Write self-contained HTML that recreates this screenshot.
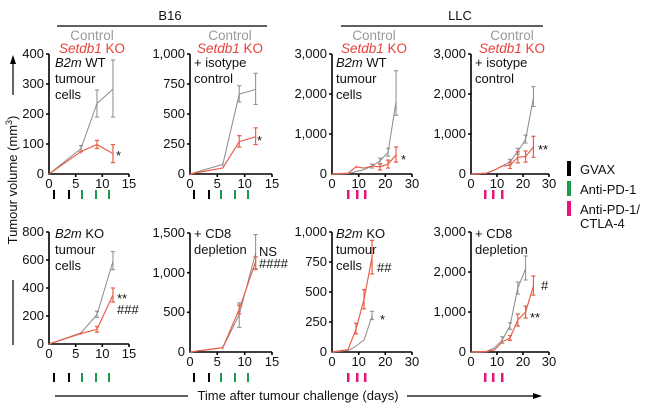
<!DOCTYPE html>
<html><head><meta charset="utf-8"><style>
body{margin:0;background:#fff}
svg{display:block;font-family:"Liberation Sans",Arial,sans-serif}
.t{font-size:13px;fill:#111}
.tk{font-size:13px;fill:#111}
.g{fill:none;stroke:#8a8a8a;stroke-width:1}
.r{fill:none;stroke:#e8604a;stroke-width:1.2}
.ax{stroke:#000;stroke-width:1.6;fill:none}
</style></head><body>
<svg width="650" height="412" viewBox="0 0 650 412">
<text x="170" y="20" text-anchor="middle" class="t" font-size="13">B16</text>
<line x1="57" y1="26" x2="267" y2="26" stroke="#000" stroke-width="1.2"/>
<text x="460" y="20" text-anchor="middle" class="t" font-size="13">LLC</text>
<line x1="341" y1="26" x2="543" y2="26" stroke="#000" stroke-width="1.2"/>
<g font-size="13.5" text-anchor="middle">
<text x="92" y="40" fill="#999">Control</text><text x="92" y="53" fill="#e8403a"><tspan font-style="italic">Setdb1</tspan> KO</text>
<text x="230" y="40" fill="#999">Control</text><text x="230" y="53" fill="#e8403a"><tspan font-style="italic">Setdb1</tspan> KO</text>
<text x="374" y="40" fill="#999">Control</text><text x="374" y="53" fill="#e8403a"><tspan font-style="italic">Setdb1</tspan> KO</text>
<text x="512" y="40" fill="#999">Control</text><text x="512" y="53" fill="#e8403a"><tspan font-style="italic">Setdb1</tspan> KO</text>
</g>
<text transform="translate(17,180) rotate(-90)" text-anchor="middle" class="t" font-size="13">Tumour volume (mm<tspan dy="-5" font-size="9">3</tspan><tspan dy="5">)</tspan></text>
<line x1="13" y1="280" x2="13" y2="345" stroke="#000" stroke-width="1.2"/>
<line x1="13" y1="95" x2="13" y2="62" stroke="#000" stroke-width="1.2"/>
<polygon points="13,55 10,64 16,64" fill="#000"/>
<text x="298" y="400" text-anchor="middle" class="t" font-size="13.5">Time after tumour challenge (days)</text>
<line x1="55" y1="396" x2="188" y2="396" stroke="#000" stroke-width="1.2"/>
<line x1="407" y1="396" x2="535" y2="396" stroke="#000" stroke-width="1.2"/>
<polygon points="542,396 533,393 533,399" fill="#000"/>

<rect x="567" y="161" width="4" height="15" fill="#000"/><text x="580" y="174" class="t" font-size="13.5">GVAX</text>
<rect x="567" y="181" width="4" height="15" fill="#1a9a4a"/><text x="580" y="194" class="t" font-size="13.5">Anti-PD-1</text>
<rect x="567" y="201" width="4" height="15" fill="#e8147c"/><text x="580" y="214" class="t" font-size="13.5">Anti-PD-1/</text><text x="580" y="228" class="t" font-size="13.5">CTLA-4</text>

<!-- Panel 1 -->
<path class="ax" d="M49,54 V174 H129 M46,54H49 M46,84H49 M46,114H49 M46,144H49 M75.7,174V177 M102.3,174V177 M129,174V177"/>
<g class="tk" text-anchor="end"><text x="44" y="58">400</text><text x="44" y="88">300</text><text x="44" y="118">200</text><text x="44" y="148">100</text><text x="44" y="178">0</text></g>
<g class="tk" text-anchor="middle"><text x="49" y="188">0</text><text x="75.7" y="188">5</text><text x="102.3" y="188">10</text><text x="129" y="188">15</text></g>
<text x="55" y="67" class="t" font-size="13.5"><tspan font-style="italic">B2m</tspan> WT</text><text x="55" y="83" class="t" font-size="13.5">tumour</text><text x="55" y="99" class="t" font-size="13.5">cells</text>
<g transform="translate(49,174) scale(5.33,-0.3)">
<polyline class="g" vector-effect="non-scaling-stroke" points="0,0 6,85 9,235 12,283"/>
<path class="g" vector-effect="non-scaling-stroke" d="M6,75V95 M5.6,75H6.4 M5.6,95H6.4 M9,190V280 M8.6,190H9.4 M8.6,280H9.4 M12,190V380 M11.6,190H12.4 M11.6,380H12.4"/>
<polyline class="r" vector-effect="non-scaling-stroke" points="0,0 6,75 9,98 12,68"/>
<path class="r" vector-effect="non-scaling-stroke" d="M6,68V82 M9,85V112 M8.6,85H9.4 M8.6,112H9.4 M12,38V98 M11.6,38H12.4 M11.6,98H12.4"/>
</g>
<text x="116" y="160" class="t" font-size="14">*</text>
<g fill="#000"><rect x="53" y="190" width="2" height="9"/><rect x="68" y="190" width="2" height="9"/></g>
<g fill="#1a9a4a"><rect x="81" y="190" width="2" height="9"/><rect x="95" y="190" width="2" height="9"/><rect x="108" y="190" width="2" height="9"/></g>

<!-- Panel 2 -->
<path class="ax" d="M190,54 V174 H272 M187,54H190 M187,84H190 M187,114H190 M187,144H190 M217.3,174V177 M244.7,174V177 M272,174V177"/>
<g class="tk" text-anchor="end"><text x="185" y="58">1,000</text><text x="185" y="88">750</text><text x="185" y="118">500</text><text x="185" y="148">250</text><text x="185" y="178">0</text></g>
<g class="tk" text-anchor="middle"><text x="190" y="188">0</text><text x="217.3" y="188">5</text><text x="244.7" y="188">10</text><text x="272" y="188">15</text></g>
<text x="194" y="67" class="t" font-size="13.5">+ isotype</text><text x="194" y="83" class="t" font-size="13.5">control</text>
<g transform="translate(190,174) scale(5.47,-0.12)">
<polyline class="g" vector-effect="non-scaling-stroke" points="0,0 6,80 9,665 12,705"/>
<path class="g" vector-effect="non-scaling-stroke" d="M6,65V95 M9,600V735 M8.6,600H9.4 M8.6,735H9.4 M12,580V840 M11.6,580H12.4 M11.6,840H12.4"/>
<polyline class="r" vector-effect="non-scaling-stroke" points="0,0 6,50 9,270 12,310"/>
<path class="r" vector-effect="non-scaling-stroke" d="M9,225V320 M8.6,225H9.4 M8.6,320H9.4 M12,245V385 M11.6,245H12.4 M11.6,385H12.4"/>
</g>
<text x="257" y="145" class="t" font-size="14">*</text>
<g fill="#000"><rect x="193" y="190" width="2" height="9"/><rect x="208" y="190" width="2" height="9"/></g>
<g fill="#1a9a4a"><rect x="220" y="190" width="2" height="9"/><rect x="234" y="190" width="2" height="9"/><rect x="247" y="190" width="2" height="9"/></g>

<!-- Panel 3 -->
<path class="ax" d="M332,54 V174 H412 M329,54H332 M329,94H332 M329,134H332 M358.7,174V177 M385.3,174V177 M412,174V177"/>
<g class="tk" text-anchor="end"><text x="327" y="58">3,000</text><text x="327" y="98">2,000</text><text x="327" y="138">1,000</text><text x="327" y="178">0</text></g>
<g class="tk" text-anchor="middle"><text x="332" y="188">0</text><text x="358.7" y="188">10</text><text x="385.3" y="188">20</text><text x="412" y="188">30</text></g>
<text x="336" y="67" class="t" font-size="13.5"><tspan font-style="italic">B2m</tspan> WT</text><text x="336" y="83" class="t" font-size="13.5">tumour</text><text x="336" y="99" class="t" font-size="13.5">cells</text>
<g transform="translate(332,174) scale(2.67,-0.0397)">
<polyline class="g" vector-effect="non-scaling-stroke" points="0,0 6,10 9,60 12,110 15,200 18,330 21,550 24,1830"/>
<path class="g" vector-effect="non-scaling-stroke" d="M15,150V250 M14.2,150H15.8 M14.2,250H15.8 M18,250V400 M17.2,250H18.8 M17.2,400H18.8 M21,450V650 M20.2,450H21.8 M20.2,650H21.8 M24,1480V2600 M23.2,1480H24.8 M23.2,2600H24.8"/>
<polyline class="r" vector-effect="non-scaling-stroke" points="0,0 6,20 9,180 12,150 15,200 18,180 21,250 24,480"/>
<path class="r" vector-effect="non-scaling-stroke" d="M9,150V210 M18,100V260 M17.2,100H18.8 M17.2,260H18.8 M21,150V350 M20.2,150H21.8 M20.2,350H21.8 M24,300V680 M23.2,300H24.8 M23.2,680H24.8"/>
</g>
<text x="401" y="164" class="t" font-size="14">*</text>
<g fill="#e8147c"><rect x="347" y="190" width="2.5" height="9"/><rect x="356" y="190" width="2.5" height="9"/><rect x="364" y="190" width="2.5" height="9"/></g>

<!-- Panel 4 -->
<path class="ax" d="M471,54 V174 H549 M468,54H471 M468,94H471 M468,134H471 M497,174V177 M523,174V177 M549,174V177"/>
<g class="tk" text-anchor="end"><text x="466" y="58">3,000</text><text x="466" y="98">2,000</text><text x="466" y="138">1,000</text><text x="466" y="178">0</text></g>
<g class="tk" text-anchor="middle"><text x="471" y="188">0</text><text x="497" y="188">10</text><text x="523" y="188">20</text><text x="549" y="188">30</text></g>
<text x="475" y="67" class="t" font-size="13.5">+ isotype</text><text x="475" y="83" class="t" font-size="13.5">control</text>
<g transform="translate(471,174) scale(2.6,-0.0397)">
<polyline class="g" vector-effect="non-scaling-stroke" points="0,0 6,20 9,100 12,200 15,300 18,570 21,870 24,1920"/>
<path class="g" vector-effect="non-scaling-stroke" d="M15,230V370 M14.2,230H15.8 M14.2,370H15.8 M18,500V650 M17.2,500H18.8 M17.2,650H18.8 M21,780V980 M20.2,780H21.8 M20.2,980H21.8 M24,1700V2200 M23.2,1700H24.8 M23.2,2200H24.8"/>
<polyline class="r" vector-effect="non-scaling-stroke" points="0,0 6,20 9,100 12,200 15,220 18,420 21,440 24,680"/>
<path class="r" vector-effect="non-scaling-stroke" d="M15,140V300 M14.2,140H15.8 M14.2,300H15.8 M18,280V560 M17.2,280H18.8 M17.2,560H18.8 M21,300V580 M20.2,300H21.8 M20.2,580H21.8 M24,420V950 M23.2,420H24.8 M23.2,950H24.8"/>
</g>
<text x="538" y="154" class="t" font-size="14">**</text>
<g fill="#e8147c"><rect x="484" y="190" width="2.5" height="9"/><rect x="492" y="190" width="2.5" height="9"/><rect x="501" y="190" width="2.5" height="9"/></g>

<!-- Panel 5 -->
<path class="ax" d="M49,232 V344 H129 M46,232H49 M46,260H49 M46,288H49 M46,316H49 M75.7,344V347 M102.3,344V347 M129,344V347"/>
<g class="tk" text-anchor="end"><text x="44" y="236">800</text><text x="44" y="264">600</text><text x="44" y="292">400</text><text x="44" y="320">200</text><text x="44" y="348">0</text></g>
<g class="tk" text-anchor="middle"><text x="49" y="358">0</text><text x="75.7" y="358">5</text><text x="102.3" y="358">10</text><text x="129" y="358">15</text></g>
<text x="55" y="238" class="t" font-size="13.5"><tspan font-style="italic">B2m</tspan> KO</text><text x="55" y="254" class="t" font-size="13.5">tumour</text><text x="55" y="270" class="t" font-size="13.5">cells</text>
<g transform="translate(49,344) scale(5.33,-0.14)">
<polyline class="g" vector-effect="non-scaling-stroke" points="0,0 6,80 9,210 12,590"/>
<path class="g" vector-effect="non-scaling-stroke" d="M9,190V235 M8.6,190H9.4 M8.6,235H9.4 M12,530V660 M11.6,530H12.4 M11.6,660H12.4"/>
<polyline class="r" vector-effect="non-scaling-stroke" points="0,0 6,75 9,105 12,350"/>
<path class="r" vector-effect="non-scaling-stroke" d="M6,65V85 M9,85V125 M8.6,85H9.4 M8.6,125H9.4 M12,300V400 M11.6,300H12.4 M11.6,400H12.4"/>
</g>
<text x="117" y="303" class="t" font-size="13">**</text><text x="117" y="314" class="t" font-size="12">###</text>
<g fill="#000"><rect x="53" y="373" width="2" height="9"/><rect x="68" y="373" width="2" height="9"/></g>
<g fill="#1a9a4a"><rect x="81" y="373" width="2" height="9"/><rect x="95" y="373" width="2" height="9"/><rect x="108" y="373" width="2" height="9"/></g>

<!-- Panel 6 -->
<path class="ax" d="M190,233 V352 H272 M187,233H190 M187,272.7H190 M187,312.3H190 M217.3,352V355 M244.7,352V355 M272,352V355"/>
<g class="tk" text-anchor="end"><text x="185" y="237">1,500</text><text x="185" y="277">1,000</text><text x="185" y="316">500</text><text x="185" y="356">0</text></g>
<g class="tk" text-anchor="middle"><text x="190" y="366">0</text><text x="217.3" y="366">5</text><text x="244.7" y="366">10</text><text x="272" y="366">15</text></g>
<text x="194" y="238" class="t" font-size="13.5">+ CD8</text><text x="194" y="254" class="t" font-size="13.5">depletion</text>
<g transform="translate(190,352) scale(5.47,-0.0793)">
<polyline class="g" vector-effect="non-scaling-stroke" points="0,0 6,55 9,470 12,1250"/>
<path class="g" vector-effect="non-scaling-stroke" d="M6,30V80 M9,310V620 M8.6,310H9.4 M8.6,620H9.4 M12,1050V1480 M11.6,1050H12.4 M11.6,1480H12.4"/>
<polyline class="r" vector-effect="non-scaling-stroke" points="0,0 6,55 9,540 12,1140"/>
<path class="r" vector-effect="non-scaling-stroke" d="M9,480V590 M8.6,480H9.4 M8.6,590H9.4 M12,1040V1200 M11.6,1040H12.4 M11.6,1200H12.4"/>
</g>
<text x="259" y="256" class="t" font-size="10">NS</text><text x="259" y="268" class="t" font-size="12">####</text>
<g fill="#000"><rect x="193" y="373" width="2" height="9"/><rect x="208" y="373" width="2" height="9"/></g>
<g fill="#1a9a4a"><rect x="220" y="373" width="2" height="9"/><rect x="234" y="373" width="2" height="9"/><rect x="247" y="373" width="2" height="9"/></g>

<!-- Panel 7 -->
<path class="ax" d="M332,232 V352 H412 M329,232H332 M329,262H332 M329,292H332 M329,322H332 M358.7,352V355 M385.3,352V355 M412,352V355"/>
<g class="tk" text-anchor="end"><text x="327" y="236">1,000</text><text x="327" y="266">750</text><text x="327" y="296">500</text><text x="327" y="326">250</text><text x="327" y="356">0</text></g>
<g class="tk" text-anchor="middle"><text x="332" y="366">0</text><text x="358.7" y="366">10</text><text x="385.3" y="366">20</text><text x="412" y="366">30</text></g>
<text x="336" y="238" class="t" font-size="13.5"><tspan font-style="italic">B2m</tspan> KO</text><text x="336" y="254" class="t" font-size="13.5">tumour</text><text x="336" y="270" class="t" font-size="13.5">cells</text>
<g transform="translate(332,352) scale(2.67,-0.12)">
<polyline class="g" vector-effect="non-scaling-stroke" points="0,0 6,10 9,50 12,100 15,300"/>
<path class="g" vector-effect="non-scaling-stroke" d="M15,270V340 M14.2,270H15.8 M14.2,340H15.8"/>
<polyline class="r" vector-effect="non-scaling-stroke" points="0,0 6,20 9,190 12,440 15,790"/>
<path class="r" vector-effect="non-scaling-stroke" d="M9,150V240 M8.2,150H9.8 M8.2,240H9.8 M12,360V520 M11.2,360H12.8 M11.2,520H12.8 M15,650V930 M14.2,650H15.8 M14.2,930H15.8"/>
</g>
<text x="377" y="272" class="t" font-size="12">##</text>
<text x="380" y="324" class="t" font-size="14">*</text>
<g fill="#e8147c"><rect x="347" y="373" width="2.5" height="9"/><rect x="356" y="373" width="2.5" height="9"/><rect x="364" y="373" width="2.5" height="9"/></g>

<!-- Panel 8 -->
<path class="ax" d="M471,232 V352 H549 M468,232H471 M468,272H471 M468,312H471 M497,352V355 M523,352V355 M549,352V355"/>
<g class="tk" text-anchor="end"><text x="466" y="236">3,000</text><text x="466" y="276">2,000</text><text x="466" y="316">1,000</text><text x="466" y="356">0</text></g>
<g class="tk" text-anchor="middle"><text x="471" y="366">0</text><text x="497" y="366">10</text><text x="523" y="366">20</text><text x="549" y="366">30</text></g>
<text x="475" y="238" class="t" font-size="13.5">+ CD8</text><text x="475" y="254" class="t" font-size="13.5">depletion</text>
<g transform="translate(471,352) scale(2.6,-0.04)">
<polyline class="g" vector-effect="non-scaling-stroke" points="0,0 6,20 9,100 12,300 15,650 18,1600 21,2080"/>
<path class="g" vector-effect="non-scaling-stroke" d="M12,220V380 M11.2,220H12.8 M11.2,380H12.8 M15,570V730 M14.2,570H15.8 M14.2,730H15.8 M18,1450V1750 M17.2,1450H18.8 M17.2,1750H18.8 M21,1800V2400 M20.2,1800H21.8 M20.2,2400H21.8"/>
<polyline class="r" vector-effect="non-scaling-stroke" points="0,0 6,10 9,50 12,250 15,350 18,800 21,1000 24,1650"/>
<path class="r" vector-effect="non-scaling-stroke" d="M15,290V410 M14.2,290H15.8 M14.2,410H15.8 M18,650V950 M17.2,650H18.8 M17.2,950H18.8 M21,850V1150 M20.2,850H21.8 M20.2,1150H21.8 M24,1420V1900 M23.2,1420H24.8 M23.2,1900H24.8"/>
</g>
<text x="541" y="290" class="t" font-size="12">#</text>
<text x="530" y="322" class="t" font-size="14">**</text>
<g fill="#e8147c"><rect x="484" y="373" width="2.5" height="9"/><rect x="492" y="373" width="2.5" height="9"/><rect x="501" y="373" width="2.5" height="9"/></g>
</svg>
</body></html>
